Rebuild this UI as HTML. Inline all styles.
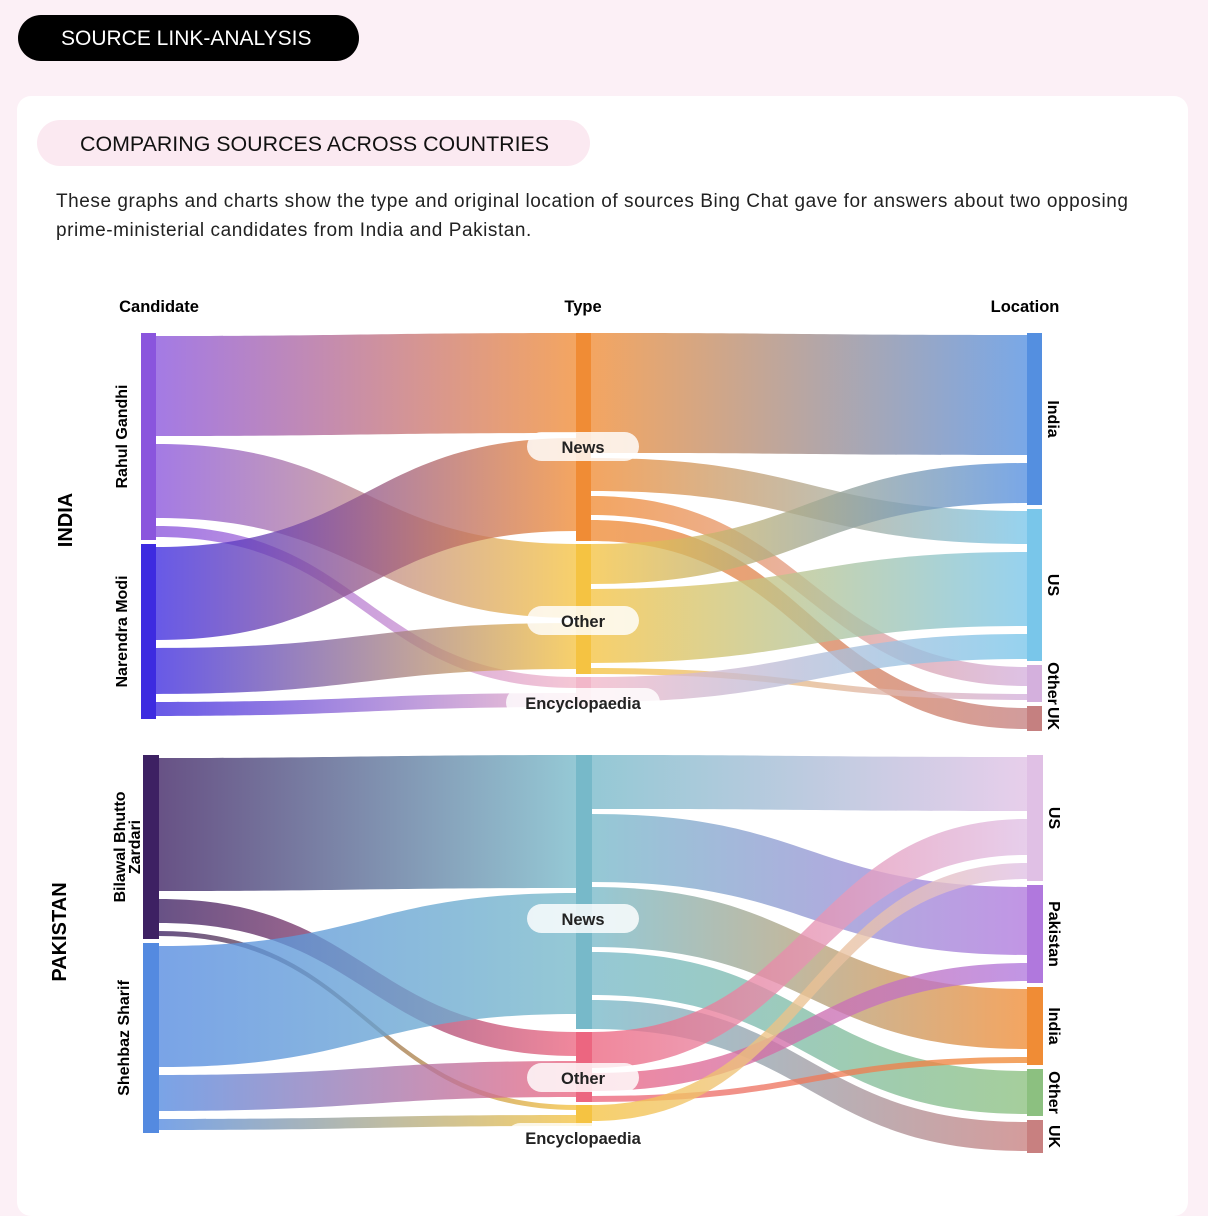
<!DOCTYPE html>
<html><head><meta charset="utf-8">
<style>
html,body{margin:0;padding:0;}
body{width:1208px;height:1186px;background:#fcf0f6;position:relative;overflow:hidden;font-family:"Liberation Sans",Arial,sans-serif;color:#111;}
#hdr{position:absolute;left:18px;top:15px;width:341px;height:46px;background:#000;border-radius:23px;color:#fff;font-size:21px;line-height:48px;text-indent:43px;}
#card{position:absolute;left:17px;top:96px;width:1171px;height:1120px;background:#fff;border-radius:14px;}
#sub{position:absolute;left:37px;top:120px;width:553px;height:46px;background:#fbe9f1;border-radius:23px;font-size:21.4px;line-height:48px;text-indent:43px;color:#111;}
#para{position:absolute;left:56px;top:187px;width:1100px;font-size:19px;letter-spacing:0.55px;line-height:29px;color:#222;}
svg{position:absolute;left:0;top:0;}
</style></head><body>
<div id="hdr">SOURCE LINK-ANALYSIS</div>
<div id="card"></div>
<div id="sub">COMPARING SOURCES ACROSS COUNTRIES</div>
<div id="para">These graphs and charts show the type and original location of sources Bing Chat gave for answers about two opposing prime-ministerial candidates from India and Pakistan.</div>
<svg id="chart" width="1208" height="1186">
<defs id="defs"></defs>
<text x="159" y="312" font-size="16.5" font-weight="bold" text-anchor="middle">Candidate</text>
<text x="583" y="312" font-size="16.5" font-weight="bold" text-anchor="middle">Type</text>
<text x="1025" y="312" font-size="16.5" font-weight="bold" text-anchor="middle">Location</text>
<g id="links"></g><g id="nodes"></g><g id="labels"></g>
</svg>
<script>
// ---- India data ----
const indiaCandidates = ["Rahul Gandhi","Narendra Modi"];
const indiaTypes = ["News","Other","Encyclopaedia"];
const indiaLocations = ["India","US","Other","UK"];
const indiaCandTypeValues = [[100,74,11],[93,46,14]];
const indiaTypeLocValues = [[120,33,19,21],[40,74,6,0],[0,25,0,0]];
// ---- Pakistan data ----
const pakCandidates = ["Bilawal Bhutto|Zardari","Shehbaz Sharif"];
const pakTypes = ["News","Other","Encyclopaedia"];
const pakLocations = ["US","Pakistan","India","Other","UK"];
const pakCandTypeValues = [[133,24,5],[121,36,11]];
const pakTypeLocValues = [[54,68,60,43,29],[36,18,6,0,0],[16,0,0,0,0]];

const NS="http://www.w3.org/2000/svg";
const defs=document.getElementById('defs');
const gL=document.getElementById('links'),gN=document.getElementById('nodes'),gT=document.getElementById('labels');
let gid=0;
function mk(tag,attrs,parent){const e=document.createElementNS(NS,tag);for(const k in attrs)e.setAttribute(k,attrs[k]);parent.appendChild(e);return e;}

function sankey(cfg){
  const k=cfg.k,lgs=[8,5,8],pads=[3,0,2],ngs=[4,3,4];
  const cols=[cfg.cands,cfg.types,cfg.locs];
  const mats=[cfg.ct,cfg.tl];
  const nodes=cols.map(()=>[]);
  cols.forEach((names,c)=>names.forEach((n,i)=>{
    let outs=c<2?mats[c][i].filter(v=>v>0):[];
    let ins=c>0?mats[c-1].map(r=>r[i]).filter(v=>v>0):[];
    const val=Math.max(outs.reduce((a,b)=>a+b,0),ins.reduce((a,b)=>a+b,0));
    const cnt=Math.max(outs.length,ins.length);
    nodes[c].push({name:n,val:val,pad:pads[c],lg:lgs[c],h:val*k+(cnt-1)*lgs[c]+2*pads[c]});
  }));
  nodes.forEach((col,c)=>{let y=cfg.top;col.forEach(nd=>{nd.y=y;nd.outY=y+nd.pad;nd.inY=y+nd.pad;y+=nd.h+ngs[c];});});
  const xs=cfg.xs;
  mats.forEach((m,c)=>{
    m.forEach((row,i)=>row.forEach((v,j)=>{
      if(v<=0)return;
      const s=nodes[c][i],t=nodes[c+1][j];
      const w=v*k;
      const y0=s.outY,y1=t.inY;s.outY+=w+s.lg;t.inY+=w+t.lg;
      const x0=xs[c]+cfg.bw,x1=xs[c+1],mx=(x0+x1)/2;
      const id='g'+(gid++);
      const lgd=mk('linearGradient',{id:id,gradientUnits:'userSpaceOnUse',x1:x0,y1:0,x2:x1,y2:0},defs);
      mk('stop',{offset:'0','stop-color':cfg.colors[c][i]},lgd);
      mk('stop',{offset:'1','stop-color':cfg.colors[c+1][j]},lgd);
      const d=`M${x0},${y0}C${mx},${y0} ${mx},${y1} ${x1},${y1}L${x1},${y1+w}C${mx},${y1+w} ${mx},${y0+w} ${x0},${y0+w}Z`;
      const p=mk('path',{d:d,fill:`url(#${id})`,'fill-opacity':'0.78'},gL);
      
      
    }));
  });
  nodes.forEach((col,c)=>col.forEach((nd,i)=>{
    const r=mk('rect',{x:xs[c],y:nd.y,width:cfg.bw,height:nd.h,fill:cfg.colors[c][i]},gN);
    
    
    const cy=nd.y+nd.h/2;
    if(c===0){
      const lines=nd.name.split('|');
      const t=mk('text',{transform:`translate(${xs[0]-14},${cy}) rotate(-90)`,'text-anchor':'middle','font-size':16,'font-weight':'bold'},gT);
      lines.forEach((ln,li)=>{const ts=mk('tspan',{x:0,dy:li===0?(lines.length>1?-4:0):15},t);ts.textContent=ln;});
      
      
    } else if(c===1){
      const ly=cfg.pillY[i];
      const w=nd.name.length>6?154:112;
      const pr=mk('rect',{x:583-w/2,y:ly-15,width:w,height:29,rx:14.5,fill:'#fff','fill-opacity':'0.82'},gT);
      
      
      const t=mk('text',{x:583,y:ly+6,'text-anchor':'middle','font-size':16.5,'font-weight':'bold',fill:'#222'},gT);
      t.textContent=nd.name;
      
      
    } else {
      const t=mk('text',{transform:`translate(${xs[2]+cfg.bw+6},${cy}) rotate(90)`,'text-anchor':'middle','font-size':16,'font-weight':'bold'},gT);
      t.textContent=nd.name;
      
      
    }
  }));
  const ct=mk('text',{transform:`translate(${cfg.countryX},${cfg.countryY}) rotate(-90)`,'text-anchor':'middle','font-size':20,'font-weight':'bold'},gT);
  ct.textContent=cfg.country;
  
  
}
sankey({key:'india',country:'INDIA',countryX:72,countryY:520,top:333,xs:[141,576,1027],bw:15,k:1.0,
  cands:indiaCandidates,types:indiaTypes,locs:indiaLocations,ct:indiaCandTypeValues,tl:indiaTypeLocValues,
  pillY:[447,621,703],
  colors:[["#8a55dd","#3d2be0"],["#f08c35","#f5c342","#f2b7c9"],["#548fe0","#79c6ea","#d4b0dd","#c58080"]]});
sankey({key:'pakistan',country:'PAKISTAN',countryX:66,countryY:932,top:755,xs:[143,576,1027],bw:16,k:1.0,
  cands:pakCandidates,types:pakTypes,locs:pakLocations,ct:pakCandTypeValues,tl:pakTypeLocValues,
  pillY:[919,1078,1138],
  colors:[["#3d2163","#548ae0"],["#77b9c9","#ec6680","#f5c342"],["#e0c0e5","#b078dd","#f08c35","#8cc080","#c88080"]]});
</script>
</body></html>
